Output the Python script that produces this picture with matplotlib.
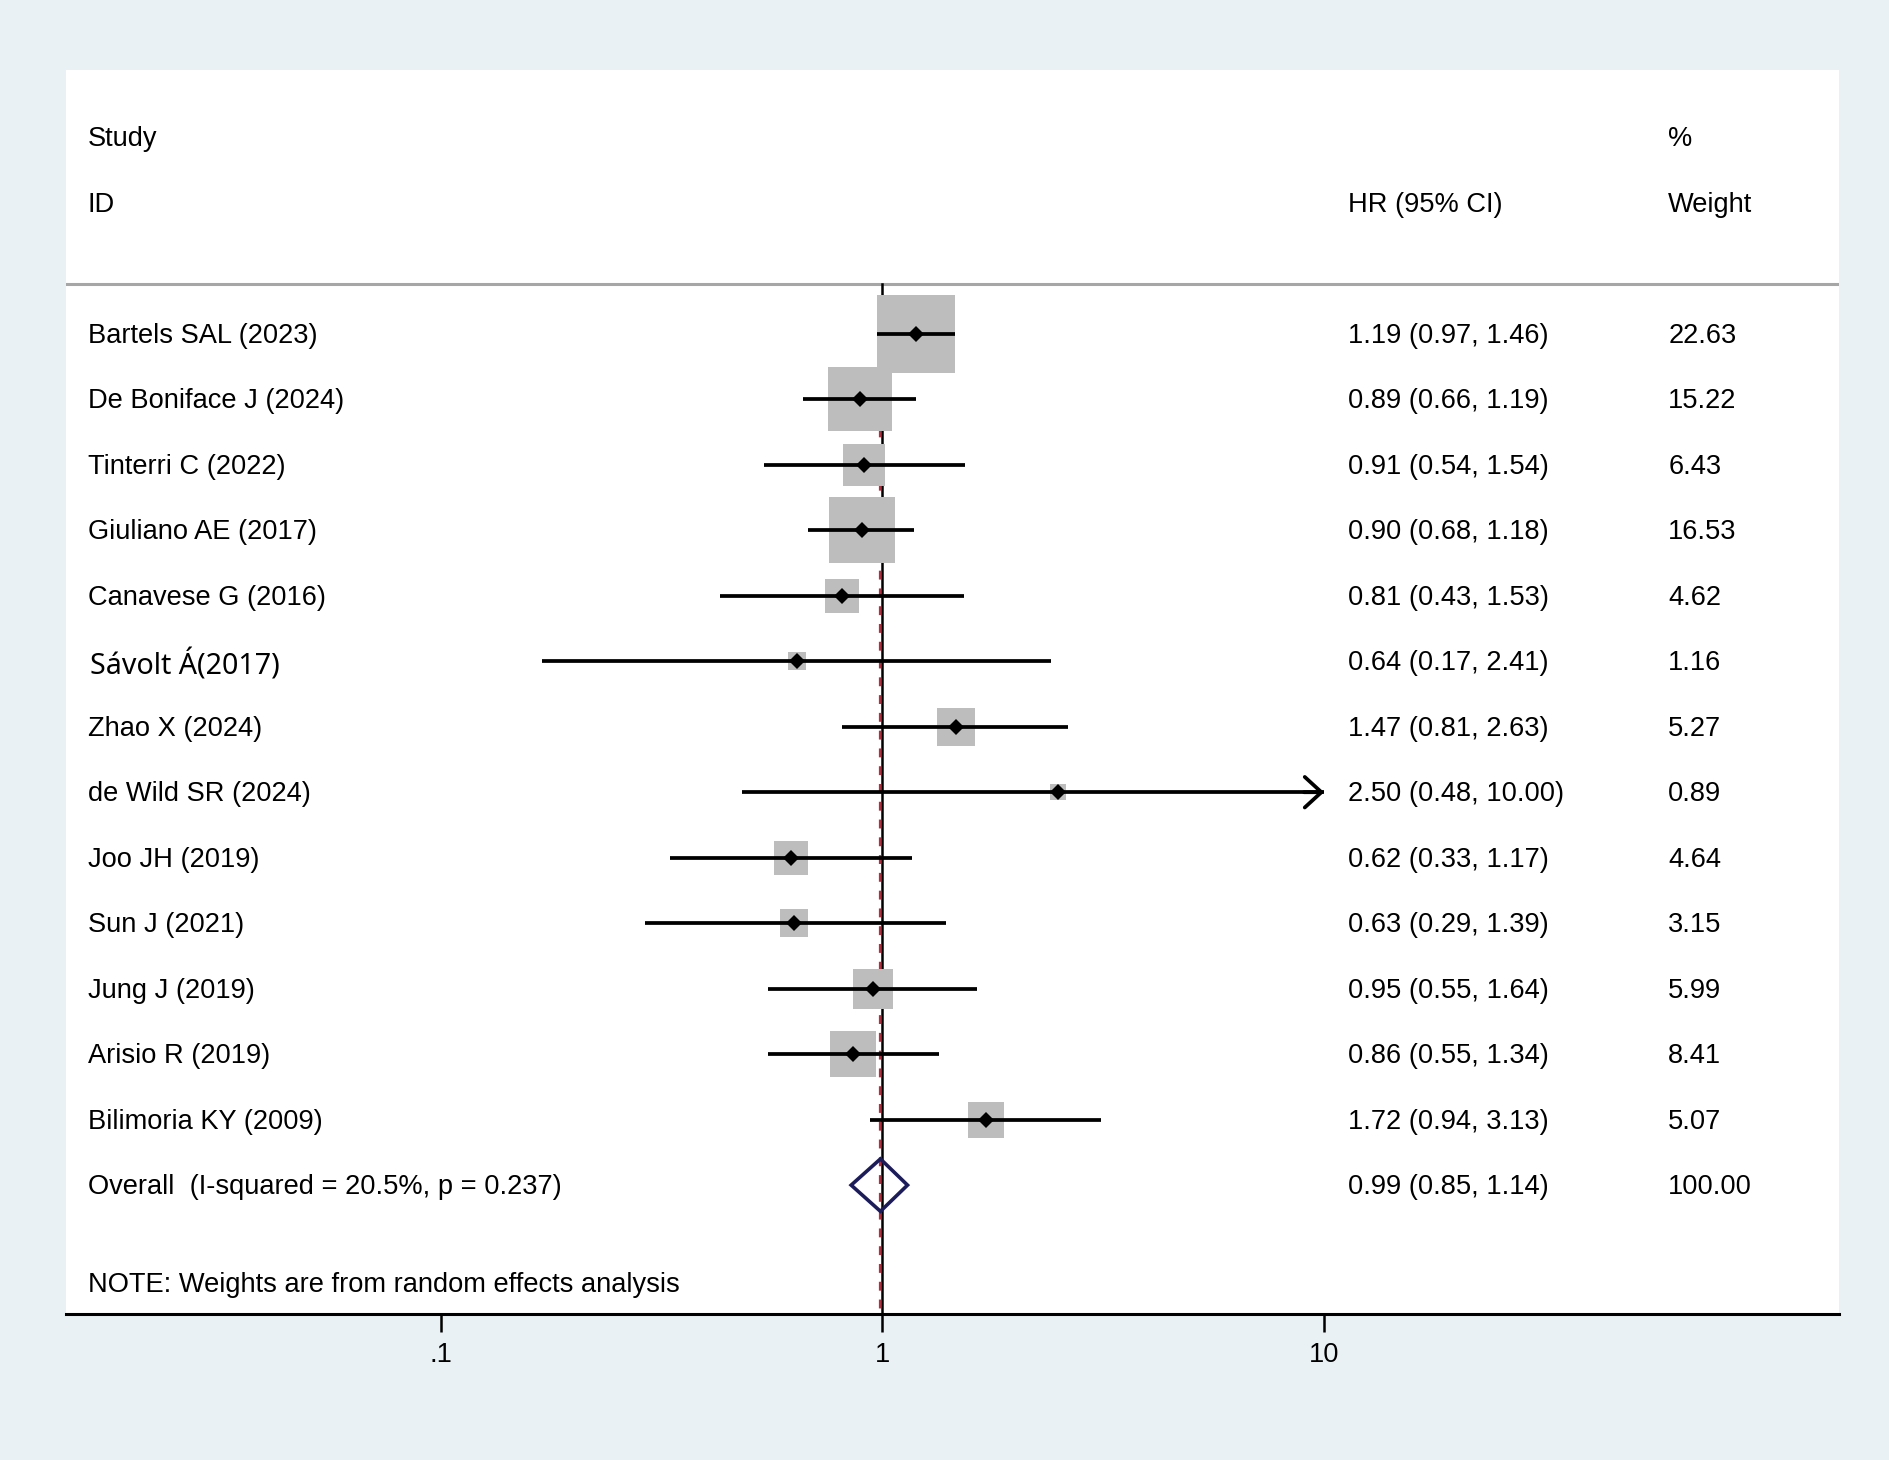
import matplotlib
matplotlib.use("Agg")
import matplotlib.pyplot as plt
import numpy as np
from matplotlib.patches import Polygon

studies = ["Bartels SAL (2023)", "De Boniface J (2024)", "Tinterri C (2022)",
           "Giuliano AE (2017)", "Canavese G (2016)", "Sávolt Á(2017)",
           "Zhao X (2024)", "de Wild SR (2024)", "Joo JH (2019)", "Sun J (2021)",
           "Jung J (2019)", "Arisio R (2019)", "Bilimoria KY (2009)"]
hr = [1.19, 0.89, 0.91, 0.90, 0.81, 0.64, 1.47, 2.50, 0.62, 0.63, 0.95, 0.86, 1.72]
lo = [0.97, 0.66, 0.54, 0.68, 0.43, 0.17, 0.81, 0.48, 0.33, 0.29, 0.55, 0.55, 0.94]
hi = [1.46, 1.19, 1.54, 1.18, 1.53, 2.41, 2.63, 10.00, 1.17, 1.39, 1.64, 1.34, 3.13]
weights = [22.63, 15.22, 6.43, 16.53, 4.62, 1.16, 5.27, 0.89, 4.64, 3.15, 5.99, 8.41, 5.07]
overall_label = "Overall  (I-squared = 20.5%, p = 0.237)"
overall = (0.99, 0.85, 1.14)
overall_weight = 100.00
note = "NOTE: Weights are from random effects analysis"
xticks = [0.1, 1, 10]
xticklabels = [".1", "1", "10"]

FONT = "Liberation Sans"
FS = 19.6
BG = "#e9f1f4"
DY = 0.03

fig = plt.figure(figsize=(18.9, 14.6), dpi=100, facecolor=BG)
ax = fig.add_axes([55/1568, 1 - 1090/1211, (1526-55)/1568, (1090-58)/1211])
ax.set_facecolor("white")
ax.set_xscale("log")
ax.set_xlim(10**-1.847, 10**2.166)
n = len(studies)
ax.set_ylim(n + 1.97, -4.03)

for s in ["top", "left", "right"]:
    ax.spines[s].set_visible(False)
ax.spines["bottom"].set_linewidth(2.2)
ax.set_yticks([])
ax.set_xticks(xticks)
ax.set_xticklabels(xticklabels, fontsize=FS, fontfamily=FONT)
ax.xaxis.set_minor_locator(matplotlib.ticker.NullLocator())
ax.tick_params(axis="x", length=13, width=1.8, pad=7, direction="out")

ytop = -0.755
ybot = n + 1.97
# header separator
ax.axhline(ytop, color="#a6a6a6", lw=2.2, zorder=1)
# null line and overall line
ax.plot([1, 1], [ytop, ybot], color="black", lw=1.8, zorder=1)
ax.plot([overall[0], overall[0]], [ytop + 0.3, ybot], color="#b03040", lw=1.6,
        ls=(0, (4, 4)), zorder=1.5)

trans = ax.get_yaxis_transform()  # x axes fraction, y data
xl, xhr, xw = (73-55)/1471, (1118-55)/1471, (1384-55)/1471

def txt(x, y, s, **kw):
    kw.setdefault("fontsize", FS)
    kw.setdefault("fontfamily", FONT)
    ax.text(x, y + DY, s, transform=trans, va="center", **kw)

txt(xl, -3, "Study")
txt(xl, -2, "ID")
txt(xhr, -2, "HR (95% CI)")
txt(xw, -3, "%")
txt(xw, -2, "Weight")

xmax = 10
for i in range(n):
    side = 55.5 * np.sqrt(weights[i] / weights[0])
    ax.plot(hr[i], i, marker="s", markersize=side, color="#bdbdbd", mew=0, zorder=2)
    ax.plot([lo[i], hi[i]], [i, i], color="black", lw=2.7, zorder=3, solid_capstyle="butt")
    if hi[i] >= xmax:
        ax.annotate("", xy=(hi[i], i), xytext=(hi[i] * 0.9, i),
                    arrowprops=dict(arrowstyle="->,head_length=0.6,head_width=0.55",
                                    lw=2.7, color="black", mutation_scale=20,
                                    shrinkA=0, shrinkB=0), zorder=3)
    ax.plot(hr[i], i, marker="D", markersize=8, color="black", mew=0, zorder=4)
    if studies[i].startswith("Sávolt"):
        txt(xl + 0.001, i + 0.03, studies[i], fontsize=20.6, fontfamily="Noto Sans")
    else:
        txt(xl, i, studies[i])
    txt(xhr, i, f"{hr[i]:.2f} ({lo[i]:.2f}, {hi[i]:.2f})")
    txt(xw, i, f"{weights[i]:.2f}")

# overall diamond
yo = n
h = 0.4
diam = Polygon([(overall[1], yo), (overall[0], yo - h), (overall[2], yo), (overall[0], yo + h)],
               closed=True, fill=False, edgecolor="#1c1c5a", lw=2.6, zorder=4)
ax.add_patch(diam)
txt(xl, yo, overall_label)
txt(xhr, yo, f"{overall[0]:.2f} ({overall[1]:.2f}, {overall[2]:.2f})")
txt(xw, yo, f"{overall_weight:.2f}")

txt(xl, n + 1.5, note)

fig.savefig("out.png", dpi=100, facecolor=BG)
